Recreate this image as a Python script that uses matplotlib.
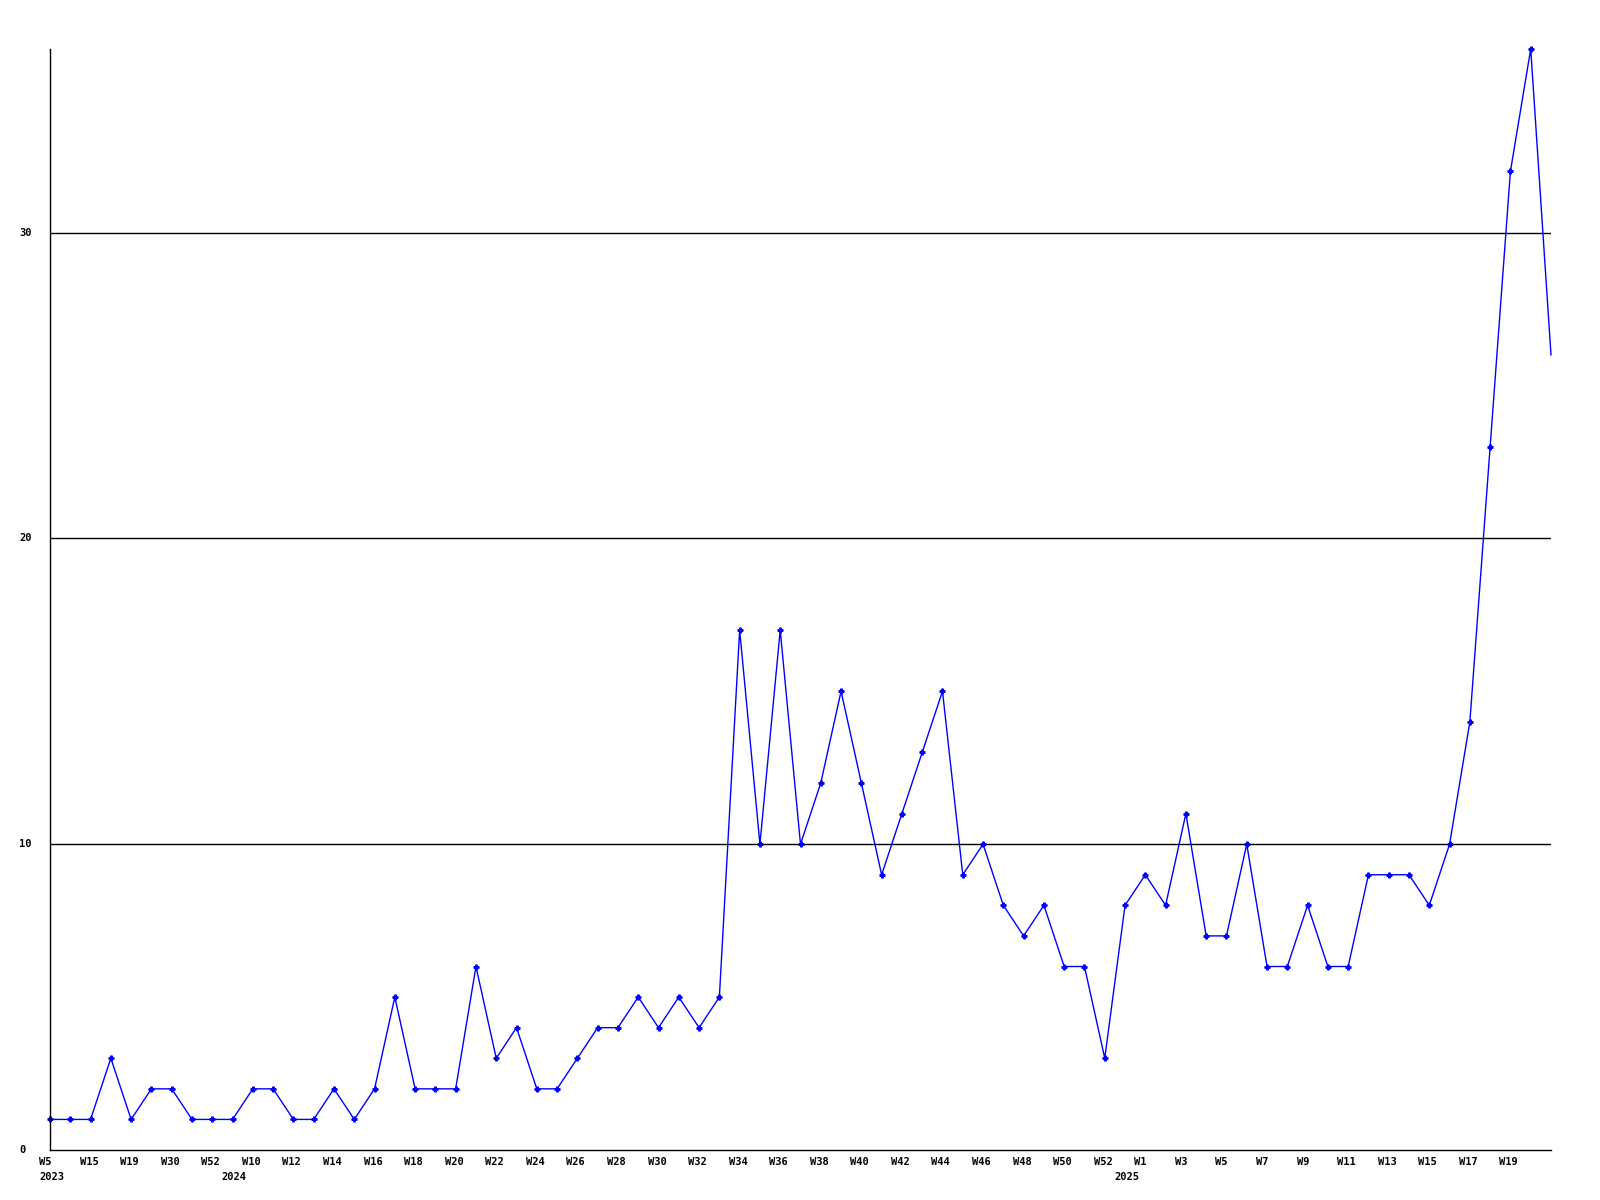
# Weekly counts line chart, old-style GD look
import numpy as np
from matplotlib import pyplot as plt

# Data
weeks = ["W5", "W10", "W15", "W17", "W19", "W25", "W30", "W40", "W52",
         "W9", "W10", "W11", "W12", "W13", "W14", "W15", "W16", "W17",
         "W18", "W19", "W20", "W21", "W22", "W23", "W24", "W25", "W26",
         "W27", "W28", "W29", "W30", "W31", "W32", "W33", "W34", "W35",
         "W36", "W37", "W38", "W39", "W40", "W41", "W42", "W43", "W44",
         "W45", "W46", "W47", "W48", "W49", "W50", "W51", "W52",
         "W0", "W1", "W2", "W3", "W4", "W5", "W6", "W7", "W8", "W9",
         "W10", "W11", "W12", "W13", "W14", "W15", "W16", "W17", "W18",
         "W19", "W20", "W21"]
years = ["2023"] * 9 + ["2024"] * 44 + ["2025"] * 22
counts = [1, 1, 1, 3, 1, 2, 2, 1, 1, 1,
          2, 2, 1, 1, 2, 1, 2, 5, 2, 2,
          2, 6, 3, 4, 2, 2, 3, 4, 4, 5,
          4, 5, 4, 5, 17, 10, 17, 10, 12, 15,
          12, 9, 11, 13, 15, 9, 10, 8, 7, 8,
          6, 6, 3, 8, 9, 8, 11, 7, 7, 10,
          6, 6, 8, 6, 6, 9, 9, 9, 8, 10,
          14, 23, 32, 36, 26]
yticks = [0, 10, 20, 30]

# Style
W, H = 1600, 1200
fnt = dict(family="DejaVu Sans Mono", weight="bold", size=7.5)

fig = plt.figure(figsize=(W / 100, H / 100), dpi=100)
ax = fig.add_axes([50 / W, 1 - 1150 / H, (1551 - 50) / W, (1150 - 49) / H])

xs = np.arange(len(counts))
ax.plot(xs, counts, color="#0000ff", lw=1, marker="P", ms=3.5,
        markevery=list(range(len(counts) - 1)), clip_on=False)

ax.set_xlim(0, len(counts) - 1)
ax.set_ylim(0, 36)

# Grid lines at the y ticks (not at 0)
for v in yticks[1:]:
    ax.axhline(v, color="black", lw=1, zorder=0)

for s in ["top", "right"]:
    ax.spines[s].set_visible(False)
for s in ["left", "bottom"]:
    ax.spines[s].set_linewidth(1)

ax.set_xticks([])
ax.set_yticks([])

# Y labels, left aligned at a fixed distance from the axis
for v in yticks:
    ax.annotate(str(v), xy=(0, v), xycoords=("axes fraction", "data"),
                xytext=(-31, 0), textcoords="offset pixels",
                ha="left", va="center", **fnt)

# Week labels every other point (not the last one), year label at first week of each year
for i in range(0, len(weeks) - 1, 2):
    ax.annotate(weeks[i], xy=(xs[i], 0), xycoords=("data", "axes fraction"),
                xytext=(-11, -12), textcoords="offset pixels",
                ha="left", va="center", **fnt)
for i in range(len(years)):
    if i == 0 or years[i] != years[i - 1]:
        ax.annotate(years[i], xy=(xs[i], 0), xycoords=("data", "axes fraction"),
                    xytext=(-11, -27), textcoords="offset pixels",
                    ha="left", va="center", **fnt)

fig.savefig("out.png", dpi=100)
